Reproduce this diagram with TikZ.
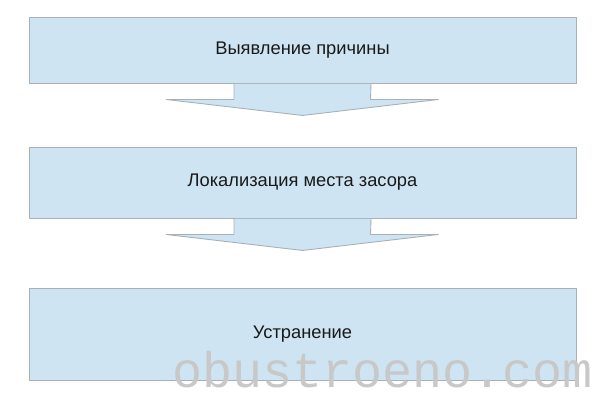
\documentclass[tikz,border=0pt]{standalone}
\usepackage{fontspec}
\setmainfont{Liberation Sans}
\newfontfamily\markfont{Liberation Mono}
\usetikzlibrary{calc}
\definecolor{boxblue}{RGB}{207,228,243}
\definecolor{boxline}{RGB}{168,176,184}
\definecolor{marktext}{RGB}{200,200,200}
\tikzset{stage/.style={draw=boxline, fill=boxblue, line width=0.9pt, minimum width=547pt, inner sep=0pt, text=black!90, font=\fontsize{18.3pt}{21pt}\selectfont}}
\newcommand{\stagebox}[4]{\node[stage, minimum height=#3] (#1) at (302.5, #2) {#4};}
\newcommand{\blockarrow}[1]{ \draw[draw=boxline, fill=boxblue, line width=0.9pt] ($(#1.south)+(-68.5,0.5)$) -- ++(0,15.5) -- ++(-68,0) -- ($(#1.south)+(0,32)$) -- ($(#1.south)+(136,16)$) -- ++(-68,0) -- ($(#1.south)+(68.5,0.5)$);}

\begin{document}
\begin{tikzpicture}[x=1pt, y=-1pt]
\useasboundingbox (0,0) rectangle (600,400);
% stage boxes
\stagebox{cause}{50}{66pt}{Выявление причины}
\stagebox{place}{182.5}{71pt}{Локализация места засора}
\stagebox{fix}{334}{92pt}{Устранение}
% arrows between stages
\blockarrow{cause}
\blockarrow{place}
% watermark
\node[anchor=base west, inner sep=0pt, text=marktext, font=\markfont\fontsize{50pt}{50pt}\selectfont] (mark) at (172,387) {obustroeno.com};
\end{tikzpicture}
\end{document}
